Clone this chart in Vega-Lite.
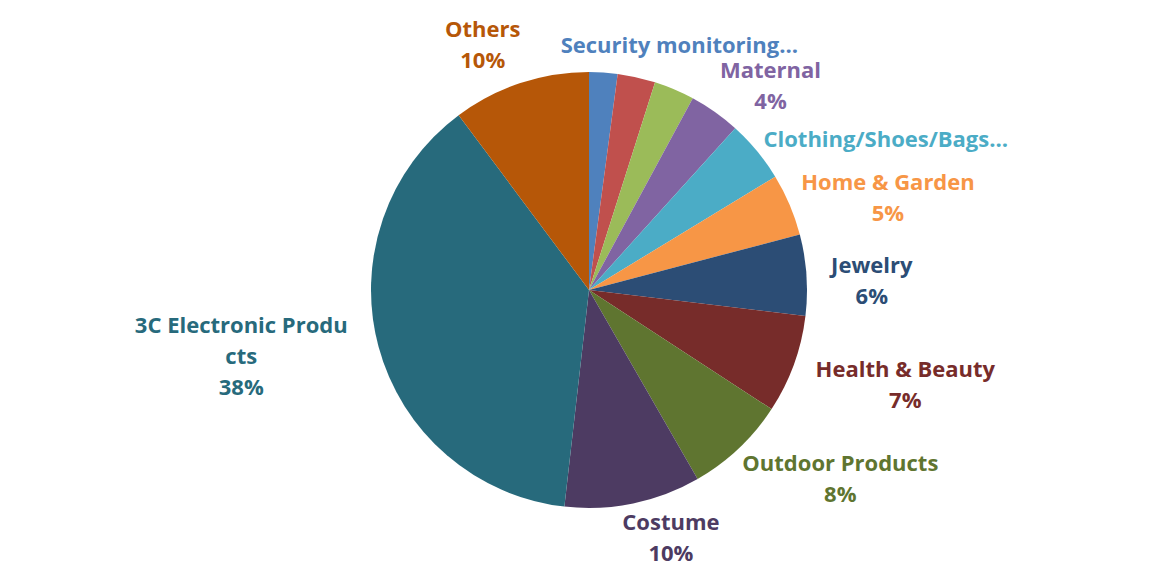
{
  "$schema": "https://vega.github.io/schema/vega-lite/v6.json",
  "width": 1136,
  "height": 552,
  "autosize": {"type": "none"},
  "padding": {"left": 21, "top": 14, "right": 0, "bottom": 0},
  "background": "white",
  "config": {"view": {"stroke": null}},
  "data": {
    "values": [
      {"category": "Security monitoring", "value": 2.1, "label": ["Security monitoring…"]},
      {"category": "Toys", "value": 2.8, "label": [""]},
      {"category": "Sports", "value": 3.0, "label": [""]},
      {"category": "Maternal", "value": 3.8, "label": ["Maternal", "4%"]},
      {"category": "Clothing/Shoes/Bags", "value": 4.6, "label": ["Clothing/Shoes/Bags…"]},
      {"category": "Home & Garden", "value": 4.6, "label": ["Home & Garden", "5%"]},
      {"category": "Jewelry", "value": 6.0, "label": ["Jewelry", "6%"]},
      {"category": "Health & Beauty", "value": 7.3, "label": ["Health & Beauty", "7%"]},
      {"category": "Outdoor Products", "value": 7.5, "label": ["Outdoor Products", "8%"]},
      {"category": "Costume", "value": 10.1, "label": ["Costume", "10%"]},
      {"category": "3C Electronic Products", "value": 38.0, "label": ["3C Electronic Produ", "cts", "38%"]},
      {"category": "Others", "value": 10.2, "label": ["Others", "10%"]}
    ]
  },
  "transform": [{"window": [{"op": "row_number", "as": "idx"}]}],
  "encoding": {
    "theta": {"field": "value", "type": "quantitative", "stack": true},
    "order": {"field": "idx", "type": "quantitative"},
    "color": {
      "field": "category",
      "type": "nominal",
      "legend": null,
      "scale": {
        "domain": ["Security monitoring", "Toys", "Sports", "Maternal", "Clothing/Shoes/Bags", "Home & Garden", "Jewelry", "Health & Beauty", "Outdoor Products", "Costume", "3C Electronic Products", "Others"],
        "range": ["#4F81BD", "#C0504D", "#9BBB59", "#8064A2", "#4BACC6", "#F79646", "#2C4D75", "#772C2A", "#5F7530", "#4D3B62", "#276A7C", "#B65708"]
      }
    }
  },
  "layer": [
    {"mark": {"type": "arc", "outerRadius": 218, "stroke": null}},
    {
      "mark": {
        "type": "text",
        "radius": 222,
        "font": "Open Sans",
        "fontSize": 22,
        "fontWeight": "bold",
        "lineHeight": 31,
        "align": "center",
        "baseline": "middle",
        "dx": {"expr": "(sin(PI*(datum.value_start+datum.value_end)/100) >= 0 ? 1 : -1) * (0.5 + 0.5*abs(sin(PI*(datum.value_start+datum.value_end)/100))) * (6.2*length(datum.label[0]) + 18)"},
        "dy": {"expr": "-cos(PI*(datum.value_start+datum.value_end)/100) * (15.5*length(datum.label) + 1) - 15.5*(length(datum.label) - 1) + 12*max(0, sin(PI*(datum.value_start+datum.value_end)/100)) - 3 - (length(datum.label) == 1 ? 4 : 0)"}
      },
      "encoding": {"text": {"field": "label", "type": "nominal"}}
    }
  ]
}
